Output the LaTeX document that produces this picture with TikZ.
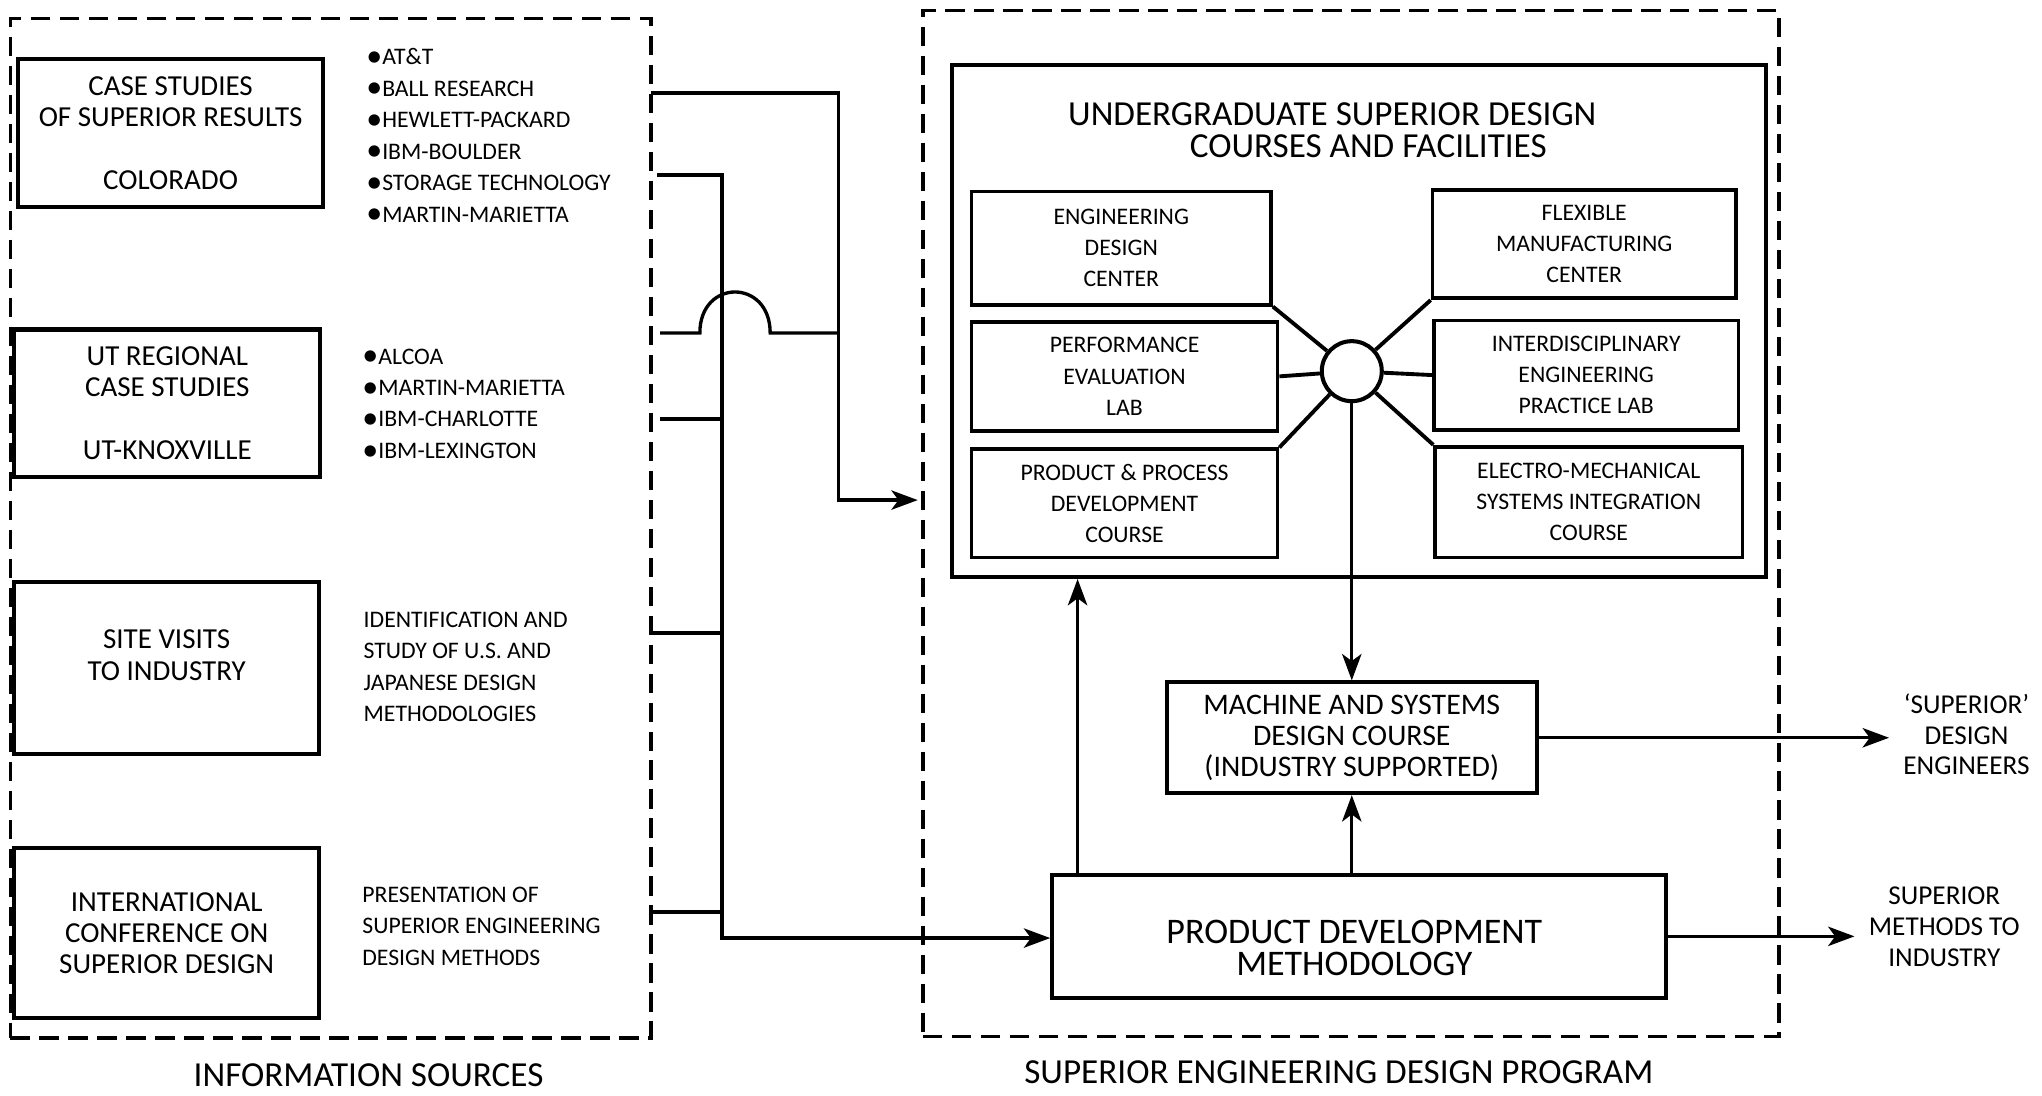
\documentclass[tikz,border=0pt]{standalone}
\usepackage{fontspec}
\setmainfont{Carlito}
\usetikzlibrary{arrows.meta,calc}
\newcommand{\bul}{\raisebox{-0.07em}{\scalebox{1.35}{\textbullet}}}

\begin{document}
\begin{tikzpicture}[x=0.02604cm,y=-0.02604cm,
  wh/.style 2 args={minimum width=#1*0.02604cm, minimum height=#2*0.02604cm},
  box/.style={draw, line width=2.3pt, inner sep=0pt, align=center, font=\fontsize{16.5}{17.8}\selectfont},
  subbox/.style={box, line width=2.1pt, font=\fontsize{13.5}{17.8}\selectfont},
  dashbox/.style={draw, line width=1.9pt, inner sep=0pt, dash pattern=on 11pt off 5.5pt},
  list/.style={anchor=west, align=left, inner sep=0pt, font=\fontsize{13.5}{17.9}\selectfont},
  conn/.style={line width=1.9pt},
  arr/.style={conn, -{Stealth[length=15pt,width=11pt,inset=4pt]}},
  outtxt/.style={align=center, inner xsep=8pt, font=\fontsize{15.5}{17.5}\selectfont},
  caption/.style={inner sep=0pt, font=\fontsize{20}{24}\selectfont}]
\useasboundingbox (0,0) rectangle (1568,841);

%%%%%%%%%%%%%%%%%%%%%%%%%%%%%%%%%%%%%%%%%%%%%%%% information sources
\node[dashbox, wh={492}{783}] (infosrc) at (254,405.5) {};
\node[box, wh={234}{114}] (cs) at (131,102) {CASE STUDIES\\OF SUPERIOR RESULTS\\[17.8pt]COLORADO};
\node[box, wh={235}{113}] (ut) at (128.5,309.5) {UT REGIONAL\\CASE STUDIES\\[17.8pt]UT-KNOXVILLE};
\node[box, wh={234}{132}] (sv) at (128,513) {};
\node[align=center, font=\fontsize{16.5}{17.8}\selectfont] (svtext) at (128,503) {SITE VISITS\\TO INDUSTRY};
\node[box, wh={234}{131}] (icsd) at (128,716.5) {INTERNATIONAL\\CONFERENCE ON\\SUPERIOR DESIGN};

\node[list] (cslist) at (281,104.5) {\bul AT\&T\\\bul BALL RESEARCH\\\bul HEWLETT-PACKARD\\\bul IBM-BOULDER\\\bul STORAGE TECHNOLOGY\\\bul MARTIN-MARIETTA};
\node[list] (utlist) at (278,310.5) {\bul ALCOA\\\bul MARTIN-MARIETTA\\\bul IBM-CHARLOTTE\\\bul IBM-LEXINGTON};
\node[list] (svlist) at (279,512) {IDENTIFICATION AND\\STUDY OF U.S. AND\\JAPANESE DESIGN\\METHODOLOGIES};
\node[list] (icsdlist) at (278,711) {PRESENTATION OF\\SUPERIOR ENGINEERING\\DESIGN METHODS};
\node[caption] (infolbl) at (283,826) {INFORMATION SOURCES};

%%%%%%%%%%%%%%%%%%%%%%%%%%%%%%%%%%%%%%%%%%%%%%%% design program
\node[dashbox, wh={657.3}{788}] (sedp) at (1037.35,402) {};
\node[box, wh={625}{393}] (ugsd) at (1043.5,246.5) {};
\node[align=center, font=\fontsize{20}{18}\selectfont] (ugsdtitle) at (1023,100) {UNDERGRADUATE SUPERIOR DESIGN\\\hspace*{41pt}COURSES AND FACILITIES};

\node[subbox, wh={230}{87}] (edc) at (861,190.5) {ENGINEERING\\DESIGN\\CENTER};
\node[subbox, wh={235}{84}] (pel) at (863.5,289) {PERFORMANCE\\EVALUATION\\LAB};
\node[subbox, wh={235}{83}] (ppdc) at (863.5,386.5) {PRODUCT \& PROCESS\\DEVELOPMENT\\COURSE};
\node[subbox, wh={233}{83}] (fmc) at (1216.5,187.5) {FLEXIBLE\\MANUFACTURING\\CENTER};
\node[subbox, wh={234}{84}] (iepl) at (1218,288) {INTERDISCIPLINARY\\ENGINEERING\\PRACTICE LAB};
\node[subbox, wh={236}{85}] (emsic) at (1220,385.5) {ELECTRO-MECHANICAL\\SYSTEMS INTEGRATION\\COURSE};
\node[draw, circle, line width=2.3pt, inner sep=0pt, minimum size=1.2cm] (hub) at (1038,285) {};
\foreach \b/\a in {edc/south east, fmc/south west, pel/east, iepl/west, ppdc/north east, emsic/north west}
  \draw[conn, line width=2.2pt] (hub) -- (\b.\a); %spokes

\node[box, wh={284}{85}, font=\fontsize{17}{17.5}\selectfont] (msdc) at (1038,566.5) {MACHINE AND SYSTEMS\\DESIGN COURSE\\(INDUSTRY SUPPORTED)};
\node[box, wh={471}{94}] (pdm) at (1043.5,719) {};
\node[align=center, font=\fontsize{20.5}{18.3}\selectfont] (pdmtext) at (1040,728) {PRODUCT DEVELOPMENT\\METHODOLOGY};
\node[caption] (sedplbl) at (1028,823) {SUPERIOR ENGINEERING DESIGN PROGRAM};

\node[outtxt] (sde) at (1510,564) {`SUPERIOR'\\DESIGN\\ENGINEERS};
\node[outtxt] (smi) at (1493,711.5) {SUPERIOR\\METHODS TO\\INDUSTRY};

%%%%%%%%%%%%%%%%%%%%%%%%%%%%%%%%%%%%%%%%%%%%%%%% connectors
\coordinate (o1) at (500,71.4);
\coordinate (o2) at (504.5,134.4);
\coordinate (o3) at (506.8,255.7);
\coordinate (o4) at (506.8,321.7);
\coordinate (o5) at (500,486);
\coordinate (o6) at (500,700.3);
\coordinate (busA) at (644,384); %upper bus
\coordinate (busB) at (554.4,720.3); %lower bus
\coordinate (cross) at (o3 -| busB);

\draw[arr, shorten >=2pt] (o1) -| (busA) -- (busA -| sedp.west);
\draw[arr] (o2) -| (busB) -- (busB -| pdm.west);
\draw[conn] (o3) -- ($(cross)+(-17,0)$) .. controls +(0,-42) and +(0,-42) .. ($(cross)+(37,0)$) -- (o3 -| busA); %jump over bus
\draw[conn] (o4) -- (o4 -| busB);
\draw[conn] (o5) -- (o5 -| busB);
\draw[conn] (o6) -- (o6 -| busB);

\draw[arr] (hub) -- (hub |- msdc.north);
\draw[arr] (msdc.south |- pdm.north) -- (msdc.south);
\coordinate (pdmup) at ($(pdm.north west)+(21,0)$);
\draw[arr] (pdmup) -- (pdmup |- ugsd.south);
\draw[arr] (msdc.east) -- (msdc.east -| sde.west);
\draw[arr] (pdm.east) -- (pdm.east -| smi.west);
\end{tikzpicture}
\end{document}
